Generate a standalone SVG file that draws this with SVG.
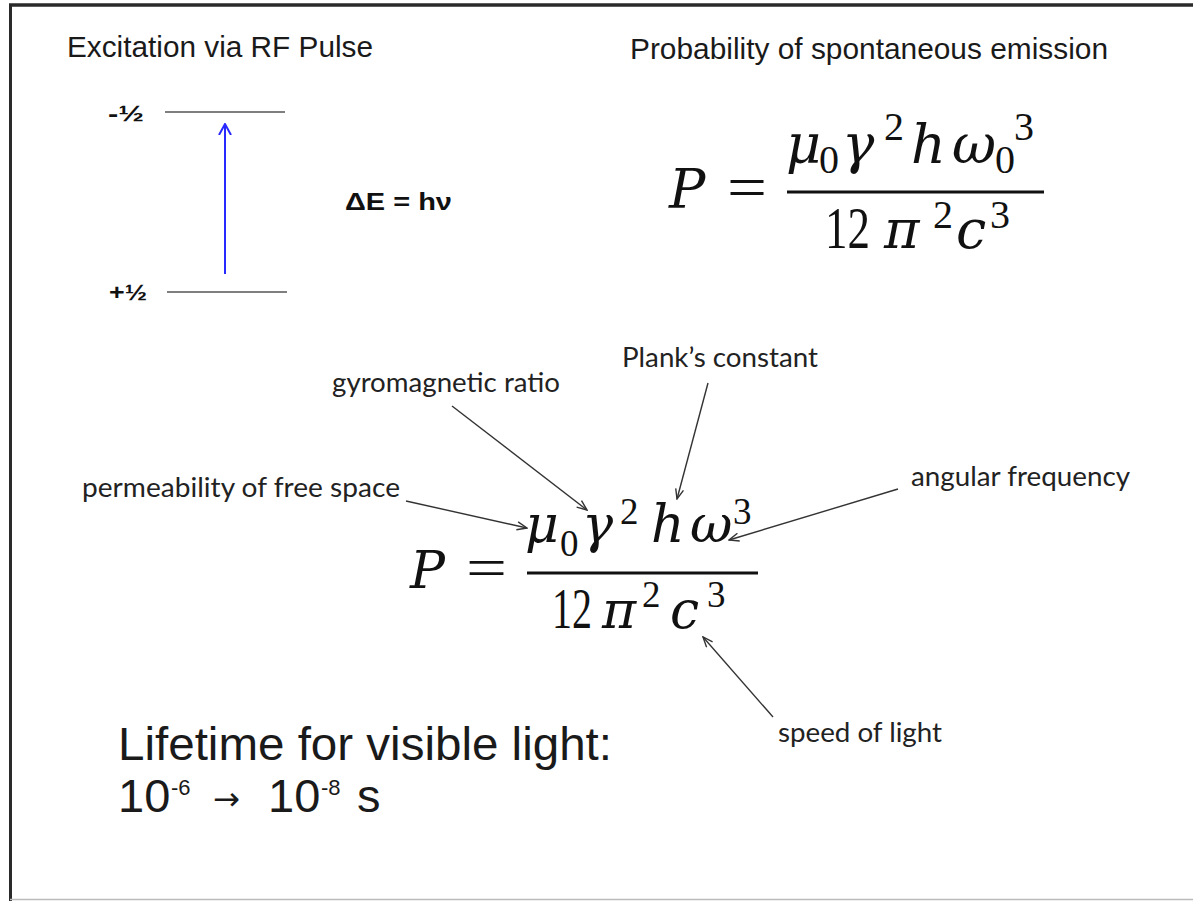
<svg xmlns="http://www.w3.org/2000/svg" width="1193" height="901" viewBox="0 0 1193 901">
<style>
.sans{font-family:"Liberation Sans",Arial,sans-serif;fill:#1a1a1a}
.bold{font-family:"Liberation Sans",Arial,sans-serif;font-weight:bold;fill:#111}
.lbl{font-family:Lato,"Open Sans",sans-serif;font-size:26px;fill:#222}
.mi{font-family:"DejaVu Serif",serif;font-style:italic;fill:#111}
.mr{font-family:"Liberation Serif","Times New Roman",serif;fill:#111}
.conn{stroke:#333;stroke-width:1.4;fill:none}
</style>
<defs>
<marker id="open" viewBox="0 0 12 10" refX="11" refY="5" markerWidth="12" markerHeight="10" markerUnits="userSpaceOnUse" orient="auto">
<path d="M1,1 L11,5 L1,9" fill="none" stroke="#333" stroke-width="1.4"/>
</marker>
<marker id="blue" viewBox="0 0 12 14" refX="11" refY="7" markerWidth="12" markerHeight="14" markerUnits="userSpaceOnUse" orient="auto">
<path d="M0,1 L11,7 L0,13" fill="none" stroke="#2a2aff" stroke-width="2"/>
</marker>
</defs>
<rect width="1193" height="901" fill="#fff"/>
<g id="frame">
<line x1="9" y1="5" x2="1193" y2="5" stroke="#2a2a2a" stroke-width="3.5"/>
<line x1="10.5" y1="4" x2="10.5" y2="901" stroke="#2a2a2a" stroke-width="3"/>
<line x1="10" y1="899.5" x2="1193" y2="899.5" stroke="#bbb" stroke-width="1.5"/>
</g>
<g id="title-excitation"><text class="sans" x="67" y="57" font-size="29" textLength="306" lengthAdjust="spacingAndGlyphs">Excitation via RF Pulse</text></g>
<g id="title-probability"><text class="sans" x="630" y="59" font-size="29" textLength="478" lengthAdjust="spacingAndGlyphs">Probability of spontaneous emission</text></g>
<g id="energy-levels">
<text class="bold" x="108" y="121" font-size="22" textLength="36" lengthAdjust="spacingAndGlyphs">-½</text>
<text class="bold" x="109" y="300" font-size="22" textLength="38" lengthAdjust="spacingAndGlyphs">+½</text>
<line x1="165" y1="112" x2="285" y2="112" stroke="#555" stroke-width="1.3"/>
<line x1="167" y1="292" x2="287" y2="292" stroke="#555" stroke-width="1.3"/>
</g>
<g id="delta-e"><text class="bold" x="345" y="210" font-size="23" textLength="107" lengthAdjust="spacingAndGlyphs">ΔE = hν</text></g>
<g id="formula-top">
<text class="mi" x="669" y="208" font-size="54">P</text>
<text class="mr" x="727" y="207" font-size="60" textLength="40" lengthAdjust="spacingAndGlyphs">=</text>
<line x1="787" y1="192" x2="1044" y2="192" stroke="#111" stroke-width="3"/>
<text class="mi" x="786" y="163" font-size="54">μ</text>
<text class="mr" x="819" y="173" font-size="40">0</text>
<text class="mi" x="842" y="163" font-size="54">γ</text>
<text class="mr" x="884" y="140" font-size="40">2</text>
<text class="mi" x="911" y="163" font-size="54">h</text>
<text class="mi" x="952" y="163" font-size="54">ω</text>
<text class="mr" x="995" y="173" font-size="40">0</text>
<text class="mr" x="1014" y="140" font-size="40">3</text>
<text class="mr" x="825" y="248" font-size="60" textLength="45" lengthAdjust="spacingAndGlyphs">12</text>
<text class="mi" x="884" y="248" font-size="54">π</text>
<text class="mr" x="933" y="228" font-size="40">2</text>
<text class="mi" x="956" y="248" font-size="54">c</text>
<text class="mr" x="990" y="228" font-size="40">3</text>
</g>
<g id="formula-bottom">
<text class="mi" x="410" y="588" font-size="52">P</text>
<text class="mr" x="466" y="587" font-size="57" textLength="41" lengthAdjust="spacingAndGlyphs">=</text>
<line x1="527" y1="573" x2="758" y2="573" stroke="#111" stroke-width="3"/>
<text class="mi" x="525" y="542" font-size="52">μ</text>
<text class="mr" x="560" y="556" font-size="37">0</text>
<text class="mi" x="582" y="542" font-size="52">γ</text>
<text class="mr" x="620" y="524" font-size="37">2</text>
<text class="mi" x="651" y="542" font-size="52">h</text>
<text class="mi" x="690" y="542" font-size="52">ω</text>
<text class="mr" x="733" y="524" font-size="37">3</text>
<text class="mr" x="552" y="628" font-size="56" textLength="40" lengthAdjust="spacingAndGlyphs">12</text>
<text class="mi" x="602" y="628" font-size="52">π</text>
<text class="mr" x="642" y="607" font-size="37">2</text>
<text class="mi" x="670" y="628" font-size="52">c</text>
<text class="mr" x="707" y="607" font-size="37">3</text>
</g>
<g id="label-gyromagnetic"><text class="lbl" x="332" y="392" textLength="228" lengthAdjust="spacingAndGlyphs">gyromagnetic ratio</text></g>
<g id="label-plank"><text class="lbl" x="622" y="367" textLength="196" lengthAdjust="spacingAndGlyphs">Plank’s constant</text></g>
<g id="label-permeability"><text class="lbl" x="82" y="497" textLength="318" lengthAdjust="spacingAndGlyphs">permeability of free space</text></g>
<g id="label-angular"><text class="lbl" x="911" y="486" textLength="219" lengthAdjust="spacingAndGlyphs">angular frequency</text></g>
<g id="label-speed"><text class="lbl" x="778" y="742" textLength="164" lengthAdjust="spacingAndGlyphs">speed of light</text></g>
<g id="lifetime">
<text class="sans" x="118" y="760" font-size="47" textLength="494" lengthAdjust="spacingAndGlyphs">Lifetime for visible light:</text>
<text class="sans" y="812" font-size="47"><tspan x="118">10</tspan><tspan x="171" y="795" font-size="22">-6</tspan><tspan x="268" y="812">10</tspan><tspan x="321" y="795" font-size="22">-8</tspan><tspan x="357" y="812">s</tspan></text>
<text x="213" y="810" font-size="32" font-family="'DejaVu Sans',sans-serif" fill="#1a1a1a" textLength="27" lengthAdjust="spacingAndGlyphs">→</text>
</g>
<g id="connectors">
<line x1="225" y1="274" x2="225" y2="124" stroke="#2a2aff" stroke-width="2" marker-end="url(#blue)"/>
<line class="conn" x1="406" y1="501" x2="527" y2="528" marker-end="url(#open)"/>
<line class="conn" x1="452" y1="406" x2="587" y2="510" marker-end="url(#open)"/>
<line class="conn" x1="708" y1="383" x2="677" y2="499" marker-end="url(#open)"/>
<line class="conn" x1="898" y1="489" x2="729" y2="540" marker-end="url(#open)"/>
<line class="conn" x1="773" y1="717" x2="703" y2="637" marker-end="url(#open)"/>
</g>
</svg>
